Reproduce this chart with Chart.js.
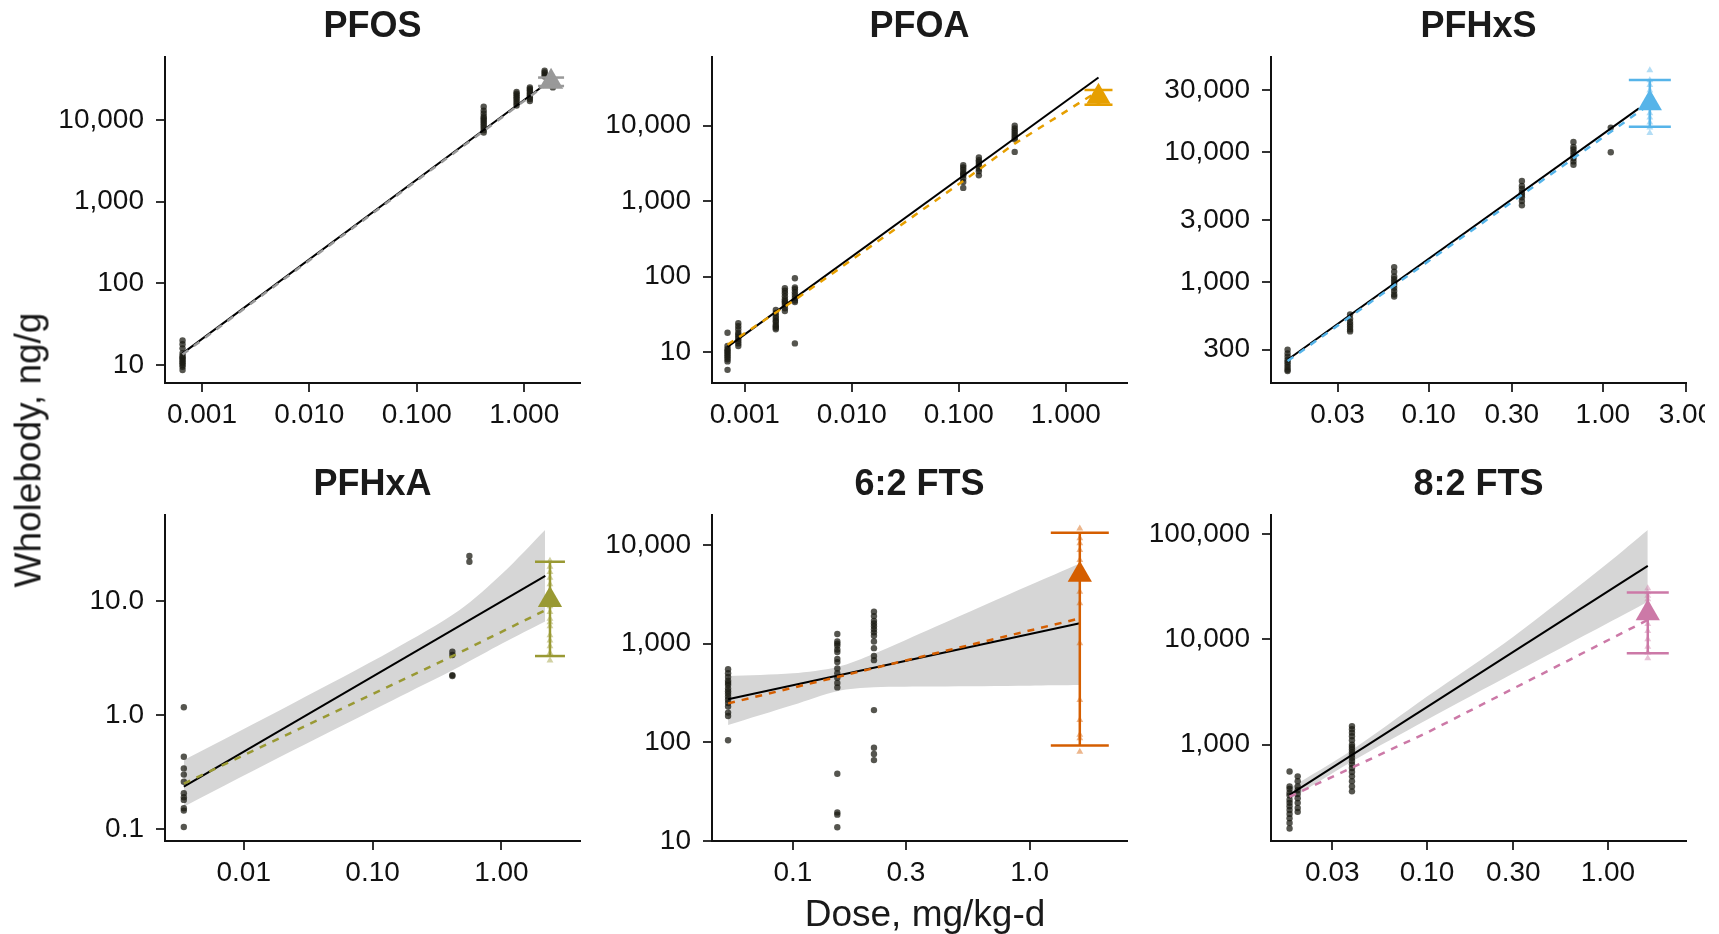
<!DOCTYPE html>
<html>
<head>
<meta charset="utf-8">
<script src="https://cdn.jsdelivr.net/npm/chart.js@4.4.1/dist/chart.umd.min.js"></script>
<style>
  body { margin: 0; background: #fff; }
  #wrap { position: relative; width: 1705px; height: 934px; overflow: hidden; background: #fff; }
  canvas { position: absolute; }
  .axt { position: absolute; font-family: "Liberation Sans", Arial, sans-serif; font-size: 37px; line-height: 37px;
         color: #1a1a1a; white-space: nowrap; transform: translate(-50%, -50%); }
</style>
</head>
<body>
<div id="wrap">
  <canvas id="c1"></canvas>
  <canvas id="c2"></canvas>
  <canvas id="c3"></canvas>
  <canvas id="c4"></canvas>
  <canvas id="c5"></canvas>
  <canvas id="c6"></canvas>
  <div class="axt" style="left:28px;top:450px;transform:translate(-50%,-50%) rotate(-90deg)">Wholebody, ng/g</div>
  <div class="axt" style="left:925px;top:913px">Dose, mg/kg-d</div>
</div>
<script>
/* DATOS */
const FUENTE = '"Liberation Sans", Arial, sans-serif';

// PFOS
const pfosDoses = [0.00066, 0.42, 0.85, 1.13, 1.55, 1.85];
const pfosObs = [
  [20, 18, 16, 14, 13, 12.5, 12, 11.5, 11, 10.5, 10, 9.5, 8.7],
  [14500, 13000, 12000, 11000, 10500, 10000, 9500, 9000, 8500, 8000, 7500, 7000],
  [22000, 21000, 20000, 19000, 18000, 17000, 16000, 15000],
  [25000, 24000, 23000, 22000, 21000, 20000, 19000, 18000, 17000],
  [40000, 38000, 36000, 34000],
  [27000, 25000]
];
const pfosFitX = [0.00066, 1.78];
const pfosFitY = [13.9, 30800];
const pfosPredX = [0.00066, 1.78];
const pfosPredY = [13.5, 30000];
const pfosBandX = [], pfosBandLo = [], pfosBandHi = [];
const pfosMean = [1.78, 29400];
const pfosErr = [26000, 33000];
const pfosSim = [33000, 31000, 30000, 28500, 27000, 26000];

// PFOA
const pfoaDoses = [0.00069, 0.00087, 0.00195, 0.00237, 0.00294, 0.11, 0.154, 0.333];
const pfoaObs = [
  [18, 12, 11, 10.5, 10, 9.5, 9, 8.5, 8, 7.5, 5.8],
  [24, 22, 20, 18, 17, 16, 15, 14, 13, 12],
  [36, 33, 30, 28, 26, 25, 23, 22, 21, 20],
  [70, 65, 60, 55, 50, 47, 45, 42, 38, 35],
  [95, 72, 68, 62, 57, 52, 48, 46, 13],
  [3000, 2800, 2600, 2400, 2300, 2200, 2000, 1800, 1500],
  [3800, 3500, 3300, 3100, 2900, 2700, 2500, 2200],
  [10000, 9200, 8600, 8000, 7500, 7000, 6600, 4500]
];
const pfoaFitX = [0.00069, 2.02];
const pfoaFitY = [11.7, 43600];
const pfoaPredX = [0.00069, 0.003, 0.11, 0.333, 2.02];
const pfoaPredY = [12.5, 50, 1850, 5800, 29000];
const pfoaBandX = [], pfoaBandLo = [], pfoaBandHi = [];
const pfoaMean = [2.02, 24300];
const pfoaErr = [19000, 29800];
const pfoaSim = [29000, 27000, 25000, 23000, 21000, 19500];

// PFHxS
const pfhxsDoses = [0.0155, 0.0354, 0.0634, 0.343, 0.678, 1.11];
const pfhxsObs = [
  [300, 280, 265, 250, 240, 230, 220, 210, 205],
  [560, 520, 490, 470, 450, 430, 415],
  [1300, 1200, 1100, 1050, 1000, 950, 900, 850, 800, 770],
  [6000, 5500, 5200, 4900, 4700, 4500, 4200, 3900],
  [12000, 11000, 10500, 10000, 9500, 9000, 8500, 8000],
  [15500, 10000]
];
const pfhxsFitX = [0.0155, 1.61];
const pfhxsFitY = [251, 21800];
const pfhxsPredX = [0.0155, 1.86];
const pfhxsPredY = [245, 23500];
const pfhxsBandX = [], pfhxsBandLo = [], pfhxsBandHi = [];
const pfhxsMean = [1.86, 23900];
const pfhxsErr = [15700, 36100];
const pfhxsSim = [43000, 36000, 33000, 30000, 28000, 26000, 24000, 22000, 20000, 18500, 17000, 15500, 14100];

// PFHxA
const pfhxaDoses = [0.00343, 0.416, 0.564];
const pfhxaObs = [
  [1.17, 0.43, 0.34, 0.30, 0.26, 0.206, 0.19, 0.18, 0.152, 0.145, 0.104],
  [3.59, 3.36, 2.24, 2.2],
  [24.8, 22.1]
];
const pfhxaFitX = [0.00343, 2.19];
const pfhxaFitY = [0.235, 16.6];
const pfhxaPredX = [0.00343, 0.42, 2.19];
const pfhxaPredY = [0.25, 3.3, 8.3];
const pfhxaBandX = [0.00343, 0.0242, 0.1435, 0.471, 1.02, 2.18];
const pfhxaBandLo = [0.157, 0.49, 1.35, 2.65, 4.25, 6.6];
const pfhxaBandHi = [0.403, 1.27, 3.72, 8.3, 17.5, 42];
const pfhxaMean = [2.38, 10.2];
const pfhxaErr = [3.29, 22.1];
const pfhxaSim = [22.5, 20, 18, 16, 14, 12, 11, 10, 9, 8, 7, 6.5, 6, 5, 4.5, 4, 3.5, 3.0];

// 6:2 FTS
const fts62Doses = [0.0532, 0.154, 0.22];
const fts62Obs = [
  [550, 500, 460, 420, 400, 380, 350, 330, 310, 290, 270, 250, 230, 200, 185, 105],
  [1250, 1050, 1000, 950, 870, 820, 700, 650, 560, 500, 450, 400, 360, 48, 19.5, 18.5, 13.8],
  [2100, 1900, 1700, 1600, 1500, 1400, 1300, 1200, 1050, 900, 750, 680, 212, 88, 76, 66]
];
const fts62FitX = [0.0532, 1.63];
const fts62FitY = [273, 1607];
const fts62PredX = [0.0532, 1.63];
const fts62PredY = [248, 1800];
const fts62BandX = [0.0532, 0.1, 0.154, 0.22, 0.4, 1.0, 1.63];
const fts62BandLo = [150, 239, 330, 361, 368, 375, 380];
const fts62BandHi = [470, 500, 580, 790, 1480, 3900, 6500];
const fts62Mean = [1.63, 5000];
const fts62Err = [93, 13300];
const fts62Sim = [14700, 11700, 10400, 8870, 7030, 5790, 3360, 2560, 1007, 268, 168, 119, 110, 80];

// 8:2 FTS
const fts82Doses = [0.0174, 0.0193, 0.0385];
const fts82Obs = [
  [555, 400, 380, 350, 330, 300, 280, 260, 240, 220, 200, 180, 160],
  [500, 450, 400, 370, 340, 310, 280, 250, 230],
  [1500, 1400, 1300, 1200, 1100, 1000, 950, 900, 850, 800, 750, 700, 650, 600, 550, 500, 450, 400, 360]
];
const fts82FitX = [0.0174, 1.66];
const fts82FitY = [333, 49800];
const fts82PredX = [0.0174, 0.1, 1.66];
const fts82PredY = [320, 1300, 15300];
const fts82BandX = [0.0174, 0.0385, 0.1, 0.3, 1.0, 1.66];
const fts82BandLo = [299, 690, 1720, 4760, 14300, 22800];
const fts82BandHi = [385, 890, 2860, 10600, 53000, 109000];
const fts82Mean = [1.66, 17700];
const fts82Err = [7380, 27800];
const fts82Sim = [30600, 28000, 26000, 24000, 22000, 20000, 18000, 16000, 14000, 12000, 10000, 8500, 7500, 6600];

// TICKS
const milTicks = [0.001, 0.01, 0.1, 1];
const milLabels = ['0.001', '0.010', '0.100', '1.000'];
const decTicks = [10, 100, 1000, 10000];
const decLabels = ['10', '100', '1,000', '10,000'];
const tresTicks = [0.03, 0.1, 0.3, 1, 3];
const tresLabels = ['0.03', '0.10', '0.30', '1.00', '3.00'];
const pfhxsYTicks = [300, 1000, 3000, 10000, 30000];
const pfhxsYLabels = ['300', '1,000', '3,000', '10,000', '30,000'];
const pfhxaXTicks = [0.01, 0.1, 1];
const pfhxaXLabels = ['0.01', '0.10', '1.00'];
const pfhxaYTicks = [0.1, 1, 10];
const pfhxaYLabels = ['0.1', '1.0', '10.0'];
const fts62XTicks = [0.1, 0.3, 1];
const fts62XLabels = ['0.1', '0.3', '1.0'];
const fts82XTicks = [0.03, 0.1, 0.3, 1];
const fts82XLabels = ['0.03', '0.10', '0.30', '1.00'];
const fts82YTicks = [1000, 10000, 100000];
const fts82YLabels = ['1,000', '10,000', '100,000'];

/* FUNCIONES */
function puntos(doses, obs) {
  const out = [];
  doses.forEach((d, i) => obs[i].forEach(v => out.push({ x: d, y: v })));
  return out;
}
function pares(xs, ys) {
  return xs.map((x, i) => ({ x: x, y: ys[i] }));
}
function alfa(hex, a) {
  const n = parseInt(hex.slice(1), 16);
  return `rgba(${(n >> 16) & 255},${(n >> 8) & 255},${n & 255},${a})`;
}

// tapas de la barra de error
const tapasError = {
  id: 'tapas',
  afterDatasetsDraw(chart, args, o) {
    const ctx = chart.ctx;
    const px = chart.scales.x.getPixelForValue(o.x);
    ctx.save();
    ctx.strokeStyle = o.color;
    ctx.lineWidth = 2.5;
    [o.lo, o.hi].forEach(v => {
      const py = chart.scales.y.getPixelForValue(v);
      ctx.beginPath();
      ctx.moveTo(px - o.half, py);
      ctx.lineTo(px + o.half, py);
      ctx.stroke();
    });
    ctx.restore();
  }
};

const paneles = [
  { id: 'c1', titulo: 'PFOS', color: '#999999', ax: 165, top: 57, cap: 13,
    doses: pfosDoses, obs: pfosObs, fitX: pfosFitX, fitY: pfosFitY, predX: pfosPredX, predY: pfosPredY,
    bandX: pfosBandX, bandLo: pfosBandLo, bandHi: pfosBandHi, mean: pfosMean, err: pfosErr, sim: pfosSim,
    xMin: 0.000453, xMax: 3.31, yMin: 6.03, yMax: 58900,
    xTicks: milTicks, xLabels: milLabels, yTicks: decTicks, yLabels: decLabels },
  { id: 'c2', titulo: 'PFOA', color: '#E69F00', ax: 712, top: 57, cap: 14,
    doses: pfoaDoses, obs: pfoaObs, fitX: pfoaFitX, fitY: pfoaFitY, predX: pfoaPredX, predY: pfoaPredY,
    bandX: pfoaBandX, bandLo: pfoaBandLo, bandHi: pfoaBandHi, mean: pfoaMean, err: pfoaErr, sim: pfoaSim,
    xMin: 0.000494, xMax: 3.73, yMin: 3.88, yMax: 81600,
    xTicks: milTicks, xLabels: milLabels, yTicks: decTicks, yLabels: decLabels },
  { id: 'c3', titulo: 'PFHxS', color: '#56B4E9', ax: 1271, top: 57, cap: 21,
    doses: pfhxsDoses, obs: pfhxsObs, fitX: pfhxsFitX, fitY: pfhxsFitY, predX: pfhxsPredX, predY: pfhxsPredY,
    bandX: pfhxsBandX, bandLo: pfhxsBandLo, bandHi: pfhxsBandHi, mean: pfhxsMean, err: pfhxsErr, sim: pfhxsSim,
    xMin: 0.01245, xMax: 3.0, yMin: 166, yMax: 54300,
    xTicks: tresTicks, xLabels: tresLabels, yTicks: pfhxsYTicks, yLabels: pfhxsYLabels },
  { id: 'c4', titulo: 'PFHxA', color: '#999933', ax: 165, top: 515, cap: 15,
    doses: pfhxaDoses, obs: pfhxaObs, fitX: pfhxaFitX, fitY: pfhxaFitY, predX: pfhxaPredX, predY: pfhxaPredY,
    bandX: pfhxaBandX, bandLo: pfhxaBandLo, bandHi: pfhxaBandHi, mean: pfhxaMean, err: pfhxaErr, sim: pfhxaSim,
    xMin: 0.00245, xMax: 4.07, yMin: 0.0785, yMax: 56.8,
    xTicks: pfhxaXTicks, xLabels: pfhxaXLabels, yTicks: pfhxaYTicks, yLabels: pfhxaYLabels },
  { id: 'c5', titulo: '6:2 FTS', color: '#D55E00', ax: 712, top: 515, cap: 29,
    doses: fts62Doses, obs: fts62Obs, fitX: fts62FitX, fitY: fts62FitY, predX: fts62PredX, predY: fts62PredY,
    bandX: fts62BandX, bandLo: fts62BandLo, bandHi: fts62BandHi, mean: fts62Mean, err: fts62Err, sim: fts62Sim,
    xMin: 0.0455, xMax: 2.58, yMin: 10, yMax: 20100,
    xTicks: fts62XTicks, xLabels: fts62XLabels, yTicks: decTicks, yLabels: decLabels },
  { id: 'c6', titulo: '8:2 FTS', color: '#CC79A7', ax: 1271, top: 515, cap: 21,
    doses: fts82Doses, obs: fts82Obs, fitX: fts82FitX, fitY: fts82FitY, predX: fts82PredX, predY: fts82PredY,
    bandX: fts82BandX, bandLo: fts82BandLo, bandHi: fts82BandHi, mean: fts82Mean, err: fts82Err, sim: fts82Sim,
    xMin: 0.01374, xMax: 2.70, yMin: 121.6, yMax: 151700,
    xTicks: fts82XTicks, xLabels: fts82XLabels, yTicks: fts82YTicks, yLabels: fts82YLabels }
];

function escala(min, max, ticks, labels, horizontal) {
  return {
    type: 'logarithmic', min: min, max: max, bounds: 'data',
    afterBuildTicks: s => { s.ticks = ticks.map(v => ({ value: v })); },
    afterFit: s => { if (horizontal) s.height = 55; else s.width = 150; },
    grid: { display: true, drawOnChartArea: false, drawTicks: true, tickLength: 9, color: '#333', lineWidth: 2 },
    border: { display: true, color: '#111', width: 2 },
    ticks: { autoSkip: false, maxRotation: 0, padding: horizontal ? 6 : 12, color: '#111',
             font: { family: FUENTE, size: 28 }, callback: (v, i) => labels[i] }
  };
}

function crearGrafico(p) {
  const cv = document.getElementById(p.id);
  cv.width = 715;
  cv.height = 438;
  cv.style.left = (p.ax - 150) + 'px';
  cv.style.top = (p.top - 57) + 'px';

  const datasets = [];
  if (p.bandX.length) {
    datasets.push({ type: 'line', data: pares(p.bandX, p.bandLo), borderColor: 'rgba(0,0,0,0)', borderWidth: 0,
                    pointRadius: 0, fill: false, tension: 0.3, order: 6 });
    datasets.push({ type: 'line', data: pares(p.bandX, p.bandHi), borderColor: 'rgba(0,0,0,0)', borderWidth: 0,
                    pointRadius: 0, fill: '-1', backgroundColor: 'rgb(214,214,214)', tension: 0.3, order: 5 });
  }
  datasets.push({ type: 'scatter', data: puntos(p.doses, p.obs), pointRadius: 3.2,
                  backgroundColor: 'rgba(28,28,20,0.75)', borderColor: 'rgba(0,0,0,0)', borderWidth: 0, order: 4 });
  datasets.push({ type: 'line', data: pares(p.fitX, p.fitY), borderColor: '#000', borderWidth: 2,
                  pointRadius: 0, fill: false, order: 3 });
  datasets.push({ type: 'line', data: pares(p.predX, p.predY), borderColor: p.color, borderWidth: 2.5,
                  borderDash: [7, 7], pointRadius: 0, fill: false, order: 2 });
  datasets.push({ type: 'line', data: [{ x: p.mean[0], y: p.err[0] }, { x: p.mean[0], y: p.err[1] }],
                  borderColor: p.color, borderWidth: 2.5, pointRadius: 0, fill: false, order: 1.5 });
  datasets.push({ type: 'scatter', data: p.sim.map(v => ({ x: p.mean[0], y: v })), pointStyle: 'triangle',
                  pointRadius: 4, backgroundColor: alfa(p.color, 0.45), borderWidth: 0, order: 1 });
  datasets.push({ type: 'scatter', data: [{ x: p.mean[0], y: p.mean[1] }], pointStyle: 'triangle',
                  pointRadius: 14, backgroundColor: p.color, borderWidth: 0, order: 0 });

  return new Chart(cv, {
    type: 'scatter',
    data: { datasets },
    options: {
      responsive: false,
      animation: false,
      layout: { padding: { left: 0, right: 150, top: 0, bottom: 0 } },
      plugins: {
        legend: { display: false },
        tooltip: { enabled: false },
        title: { display: true, fullSize: false, text: p.titulo, color: '#1a1a1a',
                 font: { family: FUENTE, size: 36, weight: 'bold' }, padding: { top: 5.4, bottom: 8.4 } },
        tapas: { x: p.mean[0], lo: p.err[0], hi: p.err[1], half: p.cap, color: p.color }
      },
      scales: {
        x: escala(p.xMin, p.xMax, p.xTicks, p.xLabels, true),
        y: escala(p.yMin, p.yMax, p.yTicks, p.yLabels, false)
      }
    },
    plugins: [tapasError]
  });
}

/* LLAMADA */
paneles.forEach(crearGrafico);
</script>
</body>
</html>
